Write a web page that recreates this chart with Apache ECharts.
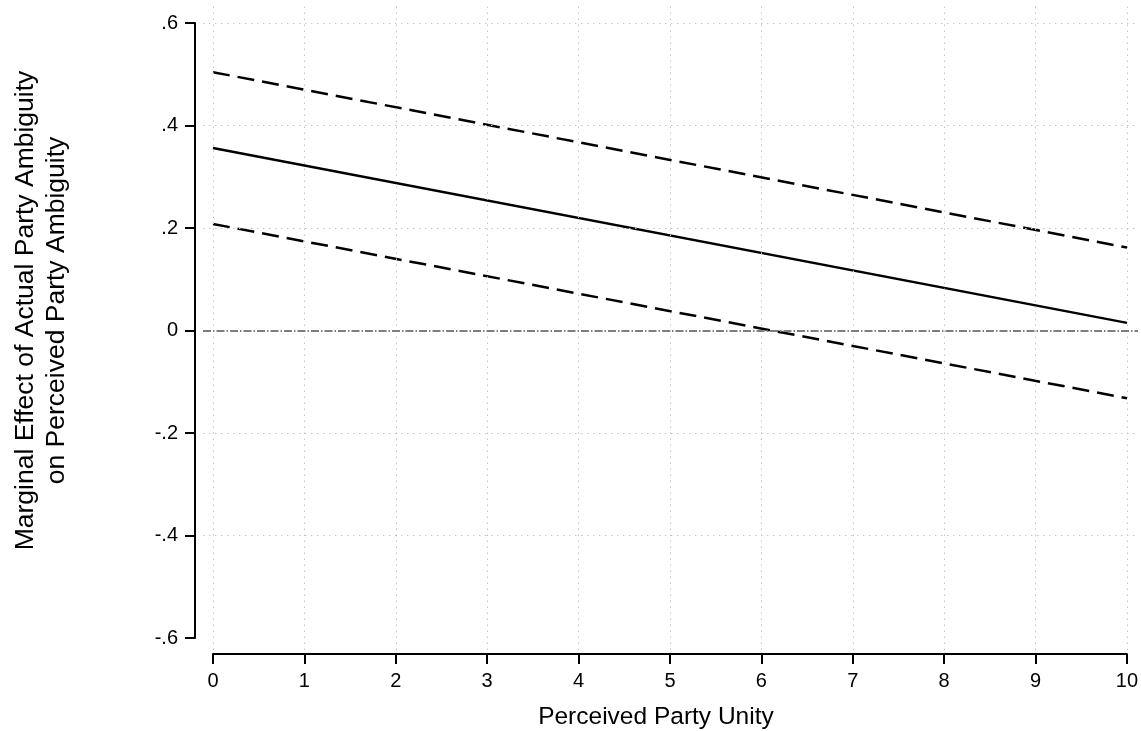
<!DOCTYPE html>
<html>
<head>
    <meta charset="utf-8">
    <title>Marginal effect</title>
    <script src="https://cdn.jsdelivr.net/npm/echarts@6/dist/echarts.min.js"></script>
    <style>
        html, body { margin: 0; padding: 0; background: #fff; }
        #chart1 { width: 1141px; height: 731px; }
    </style>
</head>
<body>
<div id="chart1"></div>
<script type="text/javascript">
    // data
    var unity = [0, 10];
    var effect = [0.356, 0.015];
    var upper = [0.504, 0.162];
    var lower = [0.208, -0.132];
    var xTicks = [0, 1, 2, 3, 4, 5, 6, 7, 8, 9, 10];
    var yGrid = [0.6, 0.4, 0.2, -0.2, -0.4];

    function pairs(ys) {
        return unity.map(function (x, i) { return [x, ys[i]]; });
    }

    var font = 'Liberation Sans, Arial, sans-serif';
    var dotted = { color: '#c4c4c4', type: [1.5, 4.5], width: 1 };

    var gridMarks = [];
    xTicks.forEach(function (x) { gridMarks.push({ xAxis: x }); });
    yGrid.forEach(function (y) { gridMarks.push({ yAxis: y }); });

    var myChart1 = echarts.init(document.getElementById('chart1'));
    myChart1.setOption({
        animation: false,
        backgroundColor: '#fff',
        grid: [
            // plot area
            { left: 203, right: 3, top: 5, bottom: 81 },
            // left axis (only spans -.6 .. .6)
            { left: 195, right: 3, top: 23, bottom: 93 },
            // bottom axis
            { left: 213, right: 14, top: 600, bottom: 74 }
        ],
        xAxis: [
            { gridIndex: 0, type: 'value', min: -0.109, max: 10.12, show: false },
            { gridIndex: 1, type: 'value', min: 0, max: 1, show: false },
            {
                gridIndex: 2, type: 'value', min: 0, max: 10, interval: 1,
                axisLine: { lineStyle: { color: '#000', width: 2 } },
                axisTick: { length: 10, lineStyle: { color: '#000', width: 2 } },
                axisLabel: { color: '#000', fontSize: 20, fontFamily: font, margin: 17 },
                splitLine: { show: false },
                name: 'Perceived Party Unity',
                nameLocation: 'middle',
                nameGap: 51,
                nameTextStyle: { color: '#000', fontSize: 24.5, fontFamily: font, padding: [0, 28, 0, 0] }
            }
        ],
        yAxis: [
            { gridIndex: 0, type: 'value', min: -0.623, max: 0.635, show: false },
            {
                gridIndex: 1, type: 'value', min: -0.6, max: 0.6, interval: 0.2,
                axisLine: { show: true, lineStyle: { color: '#000', width: 2 } },
                axisTick: { show: true, length: 10, lineStyle: { color: '#000', width: 2 } },
                axisLabel: {
                    color: '#000', fontSize: 20, fontFamily: font, margin: 17,
                    formatter: function (v) {
                        if (Math.abs(v) < 1e-9) return '0';
                        return v.toFixed(1).replace('0.', '.');
                    }
                },
                splitLine: { show: false },
                name: 'Marginal Effect of Actual Party Ambiguity\non Perceived Party Ambiguity',
                nameLocation: 'middle',
                nameGap: 123,
                nameRotate: 90,
                nameTextStyle: { color: '#000', fontSize: 26.5, fontFamily: font, lineHeight: 31, padding: [0, 0, 0, 40] }
            },
            { gridIndex: 2, type: 'value', show: false }
        ],
        series: [
            {
                type: 'line', xAxisIndex: 0, yAxisIndex: 0, data: [],
                markLine: {
                    silent: true, symbol: 'none', label: { show: false },
                    lineStyle: dotted,
                    data: gridMarks
                }
            },
            {
                type: 'line', xAxisIndex: 0, yAxisIndex: 0, data: [],
                markLine: {
                    silent: true, symbol: 'none', label: { show: false },
                    lineStyle: { color: '#7f7f7f', type: [8, 2, 1.5, 2], width: 2 },
                    data: [{ yAxis: 0 }]
                }
            },
            {
                name: 'upper', type: 'line', xAxisIndex: 0, yAxisIndex: 0,
                data: pairs(upper), symbol: 'none',
                lineStyle: { color: '#000', width: 2.5, type: [17, 8] }
            },
            {
                name: 'effect', type: 'line', xAxisIndex: 0, yAxisIndex: 0,
                data: pairs(effect), symbol: 'none',
                lineStyle: { color: '#000', width: 2.5 }
            },
            {
                name: 'lower', type: 'line', xAxisIndex: 0, yAxisIndex: 0,
                data: pairs(lower), symbol: 'none',
                lineStyle: { color: '#000', width: 2.5, type: [17, 8] }
            }
        ]
    });
</script>
</body>
</html>
